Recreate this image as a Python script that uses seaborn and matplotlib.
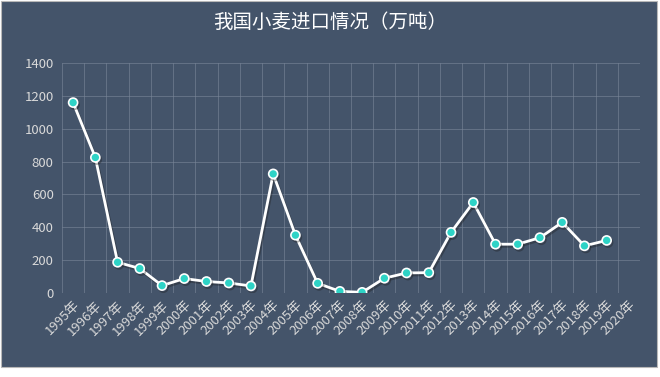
import matplotlib
matplotlib.use("Agg")
import matplotlib.pyplot as plt
import matplotlib.patheffects as pe
from matplotlib.patches import Rectangle
import seaborn as sns
import pandas as pd
import numpy as np

years = [f"{y}年" for y in range(1995, 2021)]
values = [1159, 825, 187, 149, 45, 88, 70, 61, 43, 725, 352, 59, 10, 4,
          90, 122, 124, 369, 551, 297, 297, 337, 430, 287, 320, np.nan]
title = "我国小麦进口情况（万吨）"

df = pd.DataFrame({"year": years, "value": values})
df["idx"] = np.arange(len(years))

sns.set_theme(style="dark")
plt.rcParams['font.family'] = ['Noto Sans CJK SC', 'DejaVu Sans']

bg = "#44546A"
fig = plt.figure(figsize=(6.6, 3.77), dpi=100)
fig.patch.set_facecolor("white")
fig.patches.append(Rectangle((1/660, 1 - 367/377), 656/660, 366/377,
                             transform=fig.transFigure, facecolor=bg,
                             edgecolor="#b8b8b8", linewidth=0.8, zorder=-10))
ax = fig.add_axes([62/660, 1 - 293/377, 578/660, 230/377])
ax.set_facecolor(bg)

sns.lineplot(data=df, x="idx", y="value", ax=ax, color="white", linewidth=2,
             marker="o", markersize=6.5, markerfacecolor="#2ED3C6",
             markeredgecolor="white", markeredgewidth=1.2,
             path_effects=[pe.SimpleLineShadow(offset=(1, -1.5), alpha=0.35),
                           pe.Normal()])

ax.set_xlim(-0.5, len(years) - 0.5)
ax.set_ylim(0, 1400)
ax.set_yticks(range(0, 1401, 200))
ax.set_xticks(np.arange(len(years)))
ax.set_xticklabels(years, rotation=45, ha="right", rotation_mode="anchor")
ax.set_xticks(np.arange(len(years) + 1) - 0.5, minor=True)
ax.grid(False)
ax.grid(True, which="minor", axis="x", color="#7a8699", linewidth=0.6, alpha=0.7)
ax.grid(True, which="major", axis="y", color="#7a8699", linewidth=0.6, alpha=0.7)
ax.tick_params(axis="both", which="both", length=0, colors="#d9d9d9", labelsize=9.5)
ax.tick_params(axis="x", pad=4)
ax.tick_params(axis="y", pad=6)
for s in ax.spines.values():
    s.set_visible(False)
ax.set_xlabel("")
ax.set_ylabel("")

fig.text(0.5, 1 - 22/377, title, ha="center", va="center", color="white",
         fontsize=14)

fig.savefig("out.png", dpi=100, facecolor=fig.get_facecolor())
